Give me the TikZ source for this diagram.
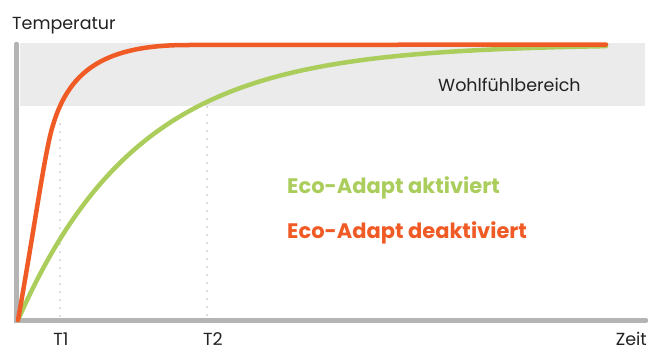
\documentclass[tikz,border=0pt]{standalone}
\usepackage{fontspec}
\setmainfont{Poppins}
\usetikzlibrary{positioning}
\definecolor{ecoorange}{RGB}{240,90,36}
\definecolor{ecogreen}{RGB}{170,205,92}
\definecolor{axisgrey}{RGB}{180,180,180}
\definecolor{bandgrey}{RGB}{235,235,235}
\definecolor{dotgrey}{RGB}{200,200,200}
\definecolor{textdark}{RGB}{34,34,34}

\begin{document}
\begin{tikzpicture}[x=1pt,y=-1pt,line cap=round,
    axis/.style={draw=axisgrey,line width=4.5pt},
    curve/.style={line width=4.5pt},
    dots/.style={draw=dotgrey,line width=2pt,dash pattern=on 0pt off 8pt},
    lbl/.style={text=textdark,font=\fontsize{17.5}{20}\selectfont,inner sep=0pt},
    legend/.style={font=\fontsize{21}{24}\selectfont\bfseries,inner sep=0pt}]
    \useasboundingbox (0,0) rectangle (648,351);
    \fill[bandgrey] (20,43) rectangle (645,106);
    \node[lbl,anchor=base west] (temp) at (12,29) {Temperatur};
    \node[lbl,anchor=base west] (band) at (438,91) {Wohlfühlbereich};
    \node[lbl,anchor=base] (t1) at (61,345) {T1};
    \node[lbl,anchor=base] (t2) at (213,345) {T2};
    \node[lbl,anchor=base east] (zeit) at (647,345) {Zeit};
    \node[legend,text=ecogreen,anchor=base west] (on) at (287,193) {Eco-Adapt aktiviert};
    \node[legend,text=ecoorange,anchor=base west] (off) at (287,238) {Eco-Adapt deaktiviert};
    \coordinate (o) at (16.5,320.5);
    \coordinate (ytop) at (16.5,44);
    \coordinate (xend) at (646,320.5);
    \draw[dots] (60,124) -- (60,318);
    \draw[dots] (207,107) -- (207,318);
    \draw[axis] (ytop) -- (o) -- (xend);
    % Eco-Adapt aktiviert
    \draw[curve,ecogreen] plot[domain=18:606,samples=150]
        (\x,{320-276*(1-exp(-(\x-18)/121))});
    % Eco-Adapt deaktiviert
    \draw[curve,ecoorange] (18,320) .. controls (35,225) and (45,150) .. (53,125)
        .. controls (70,68) and (108,45) .. (188,45) -- (606,44.5);
\end{tikzpicture}
\end{document}
